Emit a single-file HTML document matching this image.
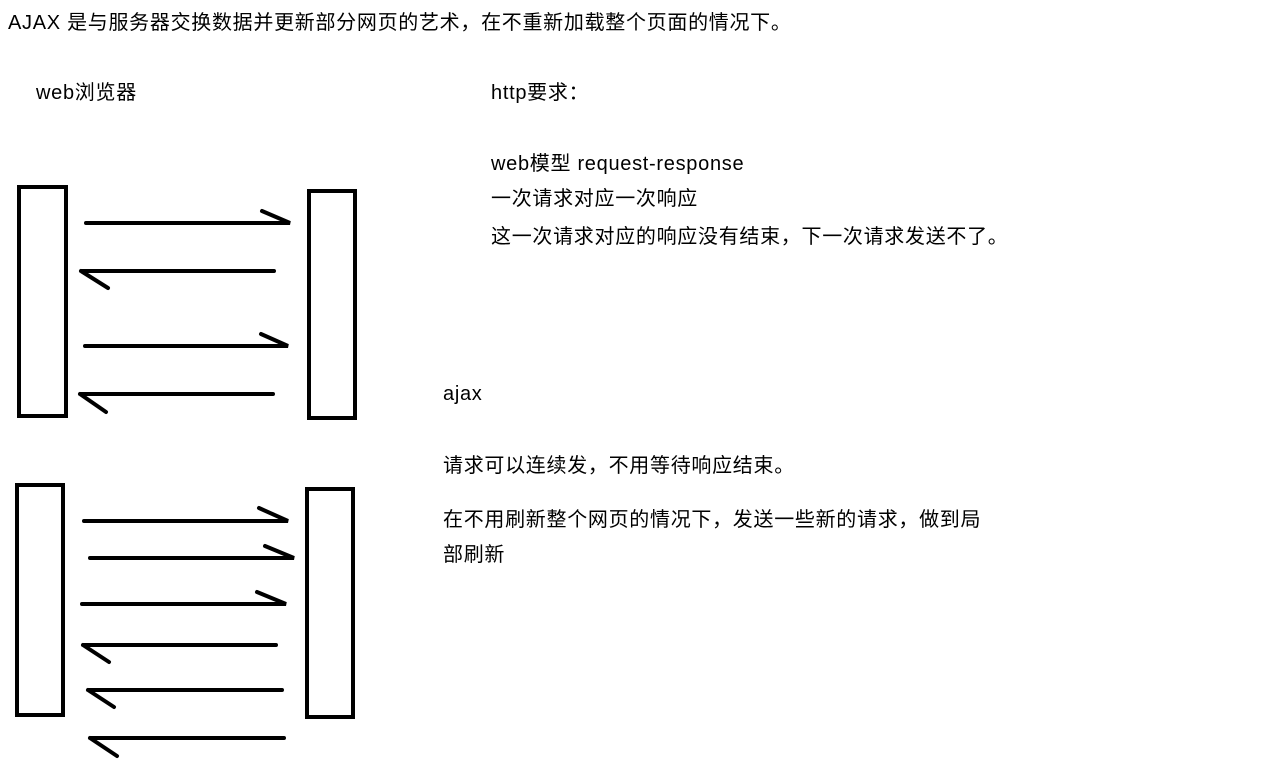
<!DOCTYPE html>
<html><head><meta charset="utf-8"><style>
body{margin:0;width:1280px;height:783px;background:#fff;position:relative;overflow:hidden;font-family:"Liberation Sans","Noto Sans CJK SC",sans-serif;color:#000}
.t{position:absolute;font-size:20px;letter-spacing:0.7px;white-space:nowrap;line-height:24px}
svg{position:absolute;left:0;top:0}
</style></head><body>
<div class="t" style="left:8px;top:11px">AJAX 是与服务器交换数据并更新部分网页的艺术，在不重新加载整个页面的情况下。</div>
<div class="t" style="left:36px;top:81px">web浏览器</div>
<div class="t" style="left:491px;top:81px">http要求：</div>
<div class="t" style="left:491px;top:152px">web模型 request-response</div>
<div class="t" style="left:491px;top:187px">一次请求对应一次响应</div>
<div class="t" style="left:491px;top:225px">这一次请求对应的响应没有结束，下一次请求发送不了。</div>
<div class="t" style="left:443px;top:382px">ajax</div>
<div class="t" style="left:443px;top:454px">请求可以连续发，不用等待响应结束。</div>
<div class="t" style="left:443px;top:508px">在不用刷新整个网页的情况下，发送一些新的请求，做到局</div>
<div class="t" style="left:443px;top:543px">部刷新</div>
<svg width="1280" height="783" fill="none" stroke="#000" stroke-width="4" stroke-linecap="round">
<rect x="19" y="187" width="47" height="229" stroke-linecap="butt"/>
<rect x="309" y="191" width="46" height="227" stroke-linecap="butt"/>
<path d="M86 223H290L262 211M81 271H274M81 271L108 288M85 346H288L261 334M80 394H273M80 394L106 412"/>
<rect x="17" y="485" width="46" height="230" stroke-linecap="butt"/>
<rect x="307" y="489" width="46" height="228" stroke-linecap="butt"/>
<path d="M84 521H288L259 508M90 558H294L265 546M82 604H286L257 592M83 645H276M83 645L109 662M88 690H282M88 690L114 707M90 738H284M90 738L117 756"/>
</svg>
</body></html>
